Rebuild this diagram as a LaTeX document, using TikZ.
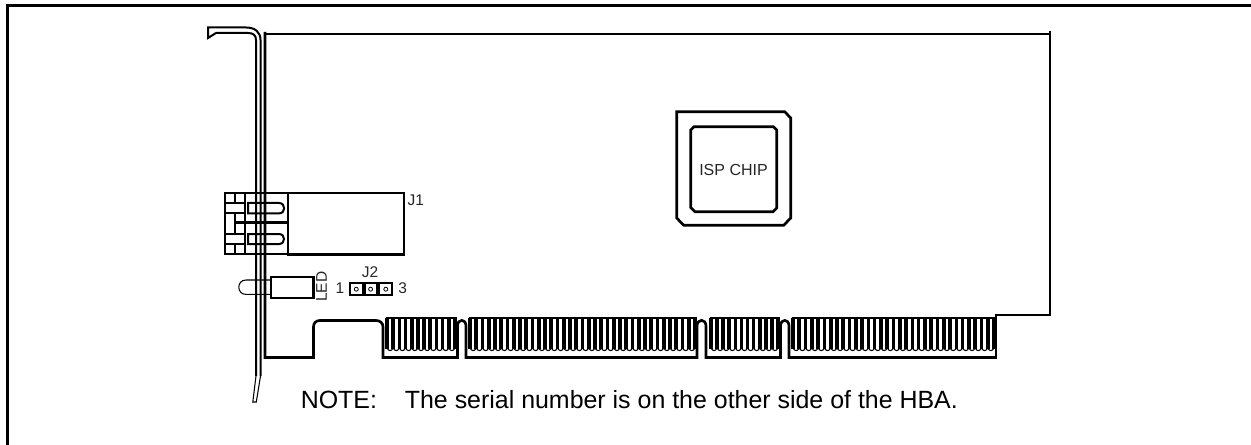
\documentclass[tikz,border=0pt]{standalone}
\usepackage{fontspec}
\setmainfont{Liberation Sans}
\tikzset{
  heavy/.style={line width=2pt,line cap=butt,line join=miter},
  medium/.style={line width=1.5pt,line join=miter},
  fine/.style={line width=.8pt},
  lab/.style={inner sep=0pt,text=black!85,font=\fontsize{11.6}{13}\selectfont},
}
\newcommand{\fingerrow}[2]{%
  \pgfmathtruncatemacro{\nbars}{round((#2-#1)/6.3)}
  \pgfmathsetmacro{\pitch}{(#2-#1)/\nbars}
  \draw[line width=1.3pt] (#1-1.5,318) -- (#2+1.5,318);
  \foreach \i in {0,...,\nbars}{
    \pgfmathsetmacro{\xa}{#1+\i*\pitch}
    \draw[line width=2.7pt] (\xa,318) -- (\xa,349);
  }
  \pgfmathtruncatemacro{\nlast}{\nbars-1}
  \foreach \i in {0,...,\nlast}{
    \pgfmathsetmacro{\xa}{#1+\i*\pitch}
    \pgfmathsetmacro{\xb}{\xa+\pitch}
    \draw[line width=.8pt] (\xa,348) .. controls (\xa+.3*\pitch,351.5) and (\xa+.7*\pitch,351.5) .. (\xb,348);
  }
}
\begin{document}
\begin{tikzpicture}[x=0.75pt,y=-0.75pt]
\useasboundingbox (0,0) rectangle (1251,445);
% frame
\draw[line width=2.2pt] (7.5,445) -- (7.5,5.5) -- (1251,5.5);
% card outline
\draw[heavy] (265,32) -- (265,357.5) -- (313.5,357.5) -- (313.5,327)
  .. controls (313.5,323) and (316,320.5) .. (320,320.5) -- (376,320.5)
  .. controls (380,320.5) and (383,323) .. (383,327) -- (383,357.5) -- (457.5,357.5) -- (457.5,326)
  .. controls (457.5,318.5) and (466,318.5) .. (466,326) -- (466,357.5) -- (697,357.5) -- (697,326)
  .. controls (697,318.5) and (706,318.5) .. (706,326) -- (706,357.5) -- (780.5,357.5) -- (780.5,326)
  .. controls (780.5,318.5) and (789,318.5) .. (789,326) -- (789,357.5) -- (996,357.5);
\draw[heavy] (996,358.5) -- (996,315) -- (1050,315) -- (1050,31);
\draw[medium] (265,34) -- (1050,34);
% gold fingers
\fingerrow{387}{455}
\fingerrow{470}{695}
\fingerrow{711}{778}
\fingerrow{793}{994}
% bracket
\draw[medium] (256,376) -- (256,40) .. controls (256,35) and (253,33) .. (248,33) -- (216,33) -- (208,38) -- (208,27.5) -- (246,27.5)
  .. controls (255,27.5) and (260.5,32) .. (260.5,40) -- (260.5,376);
\draw[fine] (256,376) -- (252.8,402) -- (256.3,402) -- (260.5,376);
% J1 connector
\draw[heavy] (225,193) rectangle (288,254);
\draw[heavy] (288,193) rectangle (404,254.5);
\draw[heavy] (225,203) -- (245,203) (225,213) -- (245,213) (225,234) -- (245,234) (225,244) -- (245,244);
\draw[heavy] (235,193) -- (235,203) (235,213) -- (235,234) (235,244) -- (235,254) (245,193) -- (245,254);
\draw[line width=2.6pt] (235,222.3) -- (288,222.3);
\draw[medium] (248,203) -- (279,203) .. controls (285.9,203) and (285.9,213.4) .. (279,213.4) -- (248,213.4) -- cycle;
\draw[medium] (248,234) -- (279,234) .. controls (285.7,234) and (285.7,244) .. (279,244) -- (248,244) -- cycle;
\node[lab,anchor=center] (j1) at (415.7,200.7) {J1};
% LED
\draw[heavy] (271,277) rectangle (313.3,298);
\draw[fine] (271,280) -- (246,280) .. controls (236.4,280) and (236.4,294.4) .. (246,294.4) -- (271,294.4);
\node[lab,rotate=90,anchor=center] (led) at (321.5,286.7) {LED};
% J2
\draw[medium] (350,283) rectangle (362.7,295.3);
\draw[medium] (364.6,283) rectangle (376.7,295.3);
\draw[medium] (379.3,283) rectangle (392.3,295.3);
\draw[line width=.6pt] (356.3,289.2) circle[radius=2] (370.6,289.2) circle[radius=2] (385.8,289.2) circle[radius=2];
\node[lab] (j2) at (370,271.7) {J2};
\node[lab] (pin1) at (340,288.3) {1};
\node[lab] (pin3) at (402.7,288.3) {3};
% chip
\draw[heavy] (676.7,111.7) -- (784.7,111.7) -- (790.7,118) -- (790.7,218) -- (783.7,225.3) -- (683.7,225.3) -- (676.7,218) -- cycle;
\draw[heavy] (694,126.7) -- (773.5,126.7) -- (776.7,130) -- (776.7,208) -- (773,211.7) -- (695,211.7) -- (690.7,207.5) -- (690.7,130) -- cycle;
\node[inner sep=0pt,text=black!85,font=\fontsize{12}{14}\selectfont] (isp) at (733.5,170) {ISP CHIP};
% note
\node[inner sep=0pt,anchor=base west,font=\fontsize{18.7}{22}\selectfont] (note) at (300.5,408) {NOTE:\hspace{1.12em}The serial number is on the other side of the HBA.};
\end{tikzpicture}
\end{document}
